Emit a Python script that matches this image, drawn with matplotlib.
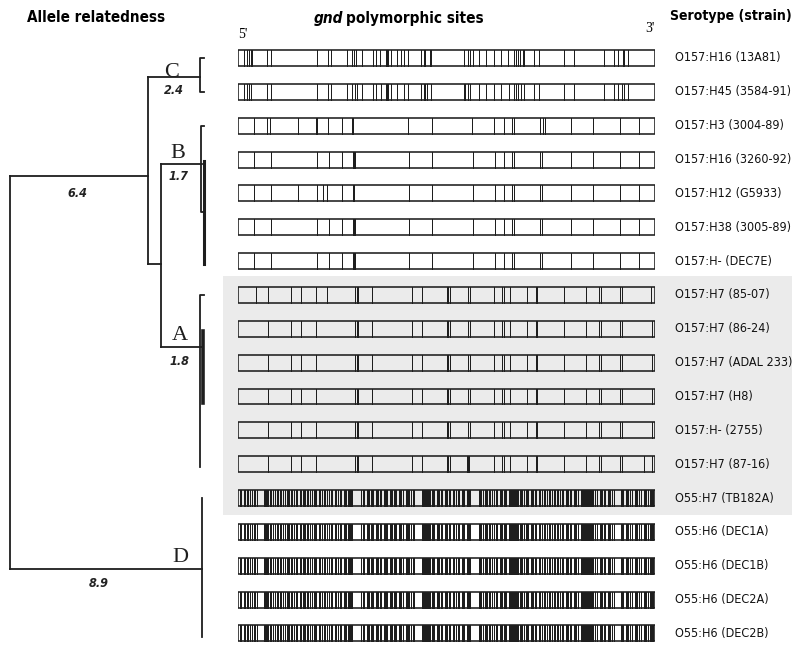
import matplotlib
matplotlib.use('Agg')
import matplotlib.pyplot as plt
from matplotlib import font_manager
from matplotlib.transforms import blended_transform_factory
from matplotlib.patches import Rectangle

# Шрифты: ищем узкий шрифт (Arial Narrow-подобный), иначе обычный
entries = font_manager.fontManager.ttflist
names = {f.name for f in entries}
SANS, STRETCH = 'Liberation Sans', 'normal'
if 'Liberation Sans Narrow' in names:
    SANS = 'Liberation Sans Narrow'
else:
    for f in entries:
        if f.stretch in ('condensed', 'semi-condensed', 'extra-condensed') and 'Mono' not in f.name \
                and 'Serif' not in f.name:
            SANS, STRETCH = f.name, f.stretch
            break
SERIF = 'Liberation Serif'
plt.rcParams['font.family'] = [SANS, 'DejaVu Sans']
plt.rcParams['font.stretch'] = STRETCH

# Данные
strains = ['O157:H16 (13A81)', 'O157:H45 (3584-91)', 'O157:H3 (3004-89)',
           'O157:H16 (3260-92)', 'O157:H12 (G5933)', 'O157:H38 (3005-89)',
           'O157:H- (DEC7E)', 'O157:H7 (85-07)', 'O157:H7 (86-24)',
           'O157:H7 (ADAL 233)', 'O157:H7 (H8)', 'O157:H- (2755)',
           'O157:H7 (87-16)', 'O55:H7 (TB182A)', 'O55:H6 (DEC1A)',
           'O55:H6 (DEC1B)', 'O55:H6 (DEC2A)', 'O55:H6 (DEC2B)']

GENE_LEN = 1250  # длина гена в относительных единицах

sites_c1 = [18, 26, 34, 38, 43, 88, 98, 236, 271, 280, 328, 343, 348, 353, 373, 406, 413,
            425, 443, 447, 450, 458, 476, 488, 498, 510, 548, 558, 562, 576, 580, 676, 688,
            696, 703, 721, 743, 768, 788, 810, 826, 833, 840, 846, 854, 858, 888, 903, 978,
            1006, 1096, 1128, 1138, 1153, 1158, 1168]
sites_c2 = [18, 26, 34, 40, 88, 98, 236, 271, 280, 328, 343, 350, 356, 373, 406, 413, 428,
            443, 447, 450, 458, 476, 498, 510, 548, 558, 562, 566, 578, 676, 681, 688, 696,
            721, 743, 768, 788, 813, 826, 833, 840, 848, 856, 888, 903, 978, 1006, 1096,
            1128, 1138, 1150, 1158, 1168]
sites_b_3004 = [48, 88, 96, 181, 234, 236, 271, 311, 341, 344, 511, 581, 701, 768, 796, 821,
                828, 906, 913, 920, 998, 1063, 1146, 1201]
sites_b_3260 = [48, 98, 236, 272, 311, 344, 347, 350, 513, 581, 703, 769, 798, 821, 826, 906,
                911, 998, 1064, 1144, 1201]
sites_b_g5933 = [48, 98, 181, 236, 256, 266, 311, 344, 348, 513, 581, 703, 769, 798, 821, 826,
                 906, 911, 998, 1064, 1144, 1201]
sites_a_8507 = [53, 90, 158, 188, 233, 266, 350, 356, 359, 403, 521, 553, 625, 630, 636, 688,
                696, 766, 791, 796, 816, 866, 894, 897, 978, 1043, 1083, 1088, 1146, 1151, 1238]
sites_a = [90, 158, 188, 233, 350, 356, 359, 403, 521, 553, 625, 630, 636, 688, 696, 766, 791,
           796, 816, 866, 894, 897, 978, 1043, 1083, 1088, 1146, 1151, 1240]
sites_a_8716 = [90, 158, 188, 233, 350, 356, 359, 403, 521, 553, 625, 630, 636, 685, 688, 691,
                766, 791, 796, 816, 866, 894, 897, 978, 1043, 1083, 1088, 1146, 1151, 1216, 1240]
sites_d = [5, 10, 18, 21, 27, 30, 36, 42, 48, 51, 57,
           78, 81, 84, 87, 90, 96, 99, 104, 110, 117, 120, 126, 129, 135, 141, 147, 150, 153,
           159, 162, 168, 174, 177, 186, 189, 195, 198, 201, 207, 210, 216, 222, 228, 231, 234,
           243, 246, 252, 258, 261, 267, 273, 279, 282, 291, 294, 300, 306, 309, 318, 321, 324,
           330, 333, 336, 339, 342,
           369, 375, 378, 387, 390, 393, 399, 402, 405, 414, 417, 420, 426, 429, 438, 441, 444,
           447, 456, 459, 462, 468, 471, 474, 483, 486, 489, 495, 504, 507, 510, 513, 519, 525,
           528,
           552, 555, 558, 561, 564, 567, 570, 573, 576, 582, 585, 588, 597, 600, 603, 609, 612,
           621, 624, 627, 633, 636, 645, 648, 654, 660, 663, 672, 675, 678, 687, 690, 693, 696,
           723, 726, 729, 735, 741, 744, 747, 753, 756, 762, 768, 774, 777, 786, 789, 792, 798,
           801, 804, 813, 816, 819, 822, 825, 828, 831, 834, 837, 840, 846, 849, 852, 858, 864,
           867, 870, 879, 882, 885, 891, 894, 903, 906, 912, 918, 921, 927, 933, 936, 942, 948,
           951, 957, 960, 966, 972, 975, 984, 987, 990, 996, 999, 1008, 1011, 1014, 1020, 1029,
           1032, 1035, 1038, 1041, 1044, 1047, 1050, 1053, 1056, 1059, 1062, 1065, 1071, 1077,
           1086, 1089, 1092, 1098, 1101, 1110, 1113, 1116, 1122, 1128,
           1149, 1152, 1155, 1164, 1167, 1170, 1176, 1182, 1191, 1194, 1197, 1203, 1209, 1218,
           1221, 1224, 1230, 1236, 1239, 1242, 1245]

row_sites = [sites_c1, sites_c2, sites_b_3004, sites_b_3260, sites_b_g5933, sites_b_3260,
             sites_b_3260, sites_a_8507, sites_a, sites_a, sites_a, sites_a, sites_a_8716,
             sites_d, sites_d, sites_d, sites_d, sites_d]

# Дерево: длины ветвей и положения узлов по строкам
branch_root_x = 6.4   # корень -> кластер C/B/A
branch_root_d = 8.9   # корень -> D
branch_x_c = 2.4
branch_x_y = 0.6
branch_y_b = 1.7
branch_y_a = 1.8
node_row = {'C': 0.55, 'X': 3.5, 'Y': 6.08, 'B': 3.13, 'A': 8.53, 'D': 15.1}

n = len(strains)
W, H = 798, 650
fig = plt.figure(figsize=(W / 100, H / 100), dpi=100)
fig.patch.set_facecolor('white')
renderer = fig.canvas.get_renderer()


def fit_width(txt, target_px):
    w = txt.get_window_extent(renderer).width
    txt.set_fontsize(txt.get_fontsize() * target_px / w)
    return txt.get_fontsize()


row0_px, row_step = 58.0, 33.85
top_px = row0_px - 0.5 * row_step
bot_px = row0_px + (n - 0.5) * row_step
ax_b = fig.add_axes([238 / W, 1 - bot_px / H, 417 / W, (bot_px - top_px) / H])
ax_b.set_xlim(0, GENE_LEN)
ax_b.set_ylim(n - 0.5, -0.5)
ax_b.axis('off')

px_per_unit = 21.6
ax_t = fig.add_axes([0, 1 - bot_px / H, 230 / W, (bot_px - top_px) / H])
ax_t.set_xlim(-10 / px_per_unit, 220 / px_per_unit)
ax_t.set_ylim(n - 0.5, -0.5)
ax_t.axis('off')

# Серый фон для группы O157:H7
fig_y = blended_transform_factory(fig.transFigure, ax_b.transData)
ax_b.add_patch(Rectangle((223 / W, 6.44), (792 - 223) / W, 7.06, transform=fig_y,
                         facecolor='#ebebeb', edgecolor='none', zorder=0, clip_on=False))

bh = 0.47
ink = '#1e1e1e'
labels = []
for i, s in enumerate(row_sites):
    ax_b.add_patch(Rectangle((0, i - bh / 2), GENE_LEN, bh, fill=False, edgecolor=ink,
                             linewidth=1.15, zorder=3))
    ax_b.vlines(s, i - bh / 2, i + bh / 2, color=ink, linewidth=0.72, antialiased=False,
                zorder=2)
    labels.append(ax_b.text(675 / W, i, strains[i], transform=fig_y, ha='left',
                            va='center', fontsize=11, color='#111111'))
# подгоняем размер подписей под самую длинную подпись
fs = fit_width(labels[9], 117)
for lab in labels:
    lab.set_fontsize(fs)

# Дерево
lw = 1.3
x_x = branch_root_x
x_d = branch_root_d
x_c = x_x + branch_x_c
x_y = x_x + branch_x_y
x_b = x_y + branch_y_b
x_a = x_y + branch_y_a
t = ax_t
t.plot([0, 0], [node_row['X'], node_row['D']], color=ink, lw=lw)
t.plot([0, x_x], [node_row['X']] * 2, color=ink, lw=lw)
t.plot([0, x_d], [node_row['D']] * 2, color=ink, lw=lw)
t.plot([x_x, x_x], [node_row['C'], node_row['Y']], color=ink, lw=lw)
t.plot([x_x, x_c], [node_row['C']] * 2, color=ink, lw=lw)
t.plot([x_x, x_y], [node_row['Y']] * 2, color=ink, lw=lw)
t.plot([x_y, x_y], [node_row['B'], node_row['A']], color=ink, lw=lw)
t.plot([x_y, x_b + 0.2], [node_row['B']] * 2, color=ink, lw=lw)
t.plot([x_y, x_a + 0.15], [node_row['A']] * 2, color=ink, lw=lw)

tick = 0.18
# C
t.plot([x_c + tick, x_c, x_c, x_c + tick], [0, 0, 1, 1], color=ink, lw=lw)
# B
t.plot([x_b + 0.12 + tick, x_b + 0.12, x_b + 0.12, x_b + 0.12 + tick], [2, 2, 4.54, 4.54],
       color=ink, lw=lw)
t.plot([x_b + 0.3, x_b + 0.3], [3.03, 6.08], color=ink, lw=2.2)
# A
t.plot([x_a + tick, x_a, x_a], [7, 7, 12.08], color=ink, lw=lw)
t.plot([x_a + 0.12, x_a + 0.12], [8.06, 10.2], color=ink, lw=2.6)
# D
t.plot([x_d, x_d], [13, 17.1], color=ink, lw=lw)

# Подписи кладов и расстояний
serif = [SERIF, 'DejaVu Serif']
letter_kw = dict(ha='center', va='baseline', fontsize=16, family=serif, color=ink,
                 stretch='normal')
num_kw = dict(ha='center', va='center', fontsize=9, style='italic', weight='bold',
              color='#222222')
t.text(7.5, node_row['C'], 'C', **letter_kw)
t.text(7.6, node_row['C'] + 0.42, '2.4', **num_kw)
t.text(7.76, node_row['B'] - 0.18, 'B', **letter_kw)
t.text(7.82, node_row['B'] + 0.38, '1.7', **num_kw)
t.text(7.84, node_row['A'] - 0.2, 'A', **letter_kw)
t.text(7.84, node_row['A'] + 0.44, '1.8', **num_kw)
t.text(7.87, node_row['D'] - 0.21, 'D', **letter_kw)
t.text(3.12, node_row['X'] + 0.5, '6.4', **num_kw)
t.text(4.13, node_row['D'] + 0.42, '8.9', **num_kw)

# Заголовки
h1 = fig.text(27 / W, 1 - 18 / H, 'Allele relatedness', ha='left', va='center',
              fontsize=13, weight='bold')
fit_width(h1, 138)
h2 = fig.text(670 / W, 1 - 16 / H, 'Serotype (strain)', ha='left', va='center',
              fontsize=13, weight='bold')
fit_width(h2, 122)
h3 = fig.text(346 / W, 1 - 18 / H, 'polymorphic sites', ha='left', va='center',
              fontsize=13, weight='bold')
fsh = fit_width(h3, 138)
fig.text(343 / W, 1 - 18 / H, 'gnd', ha='right', va='center', fontsize=fsh, weight='bold',
         style='italic')
fig.text(243 / W, 1 - 35 / H, "5'", ha='center', va='center', fontsize=10, family=serif,
         stretch='normal')
fig.text(650 / W, 1 - 29 / H, "3'", ha='center', va='center', fontsize=10, family=serif,
         stretch='normal')

fig.savefig('out.png', dpi=100, facecolor='white')
